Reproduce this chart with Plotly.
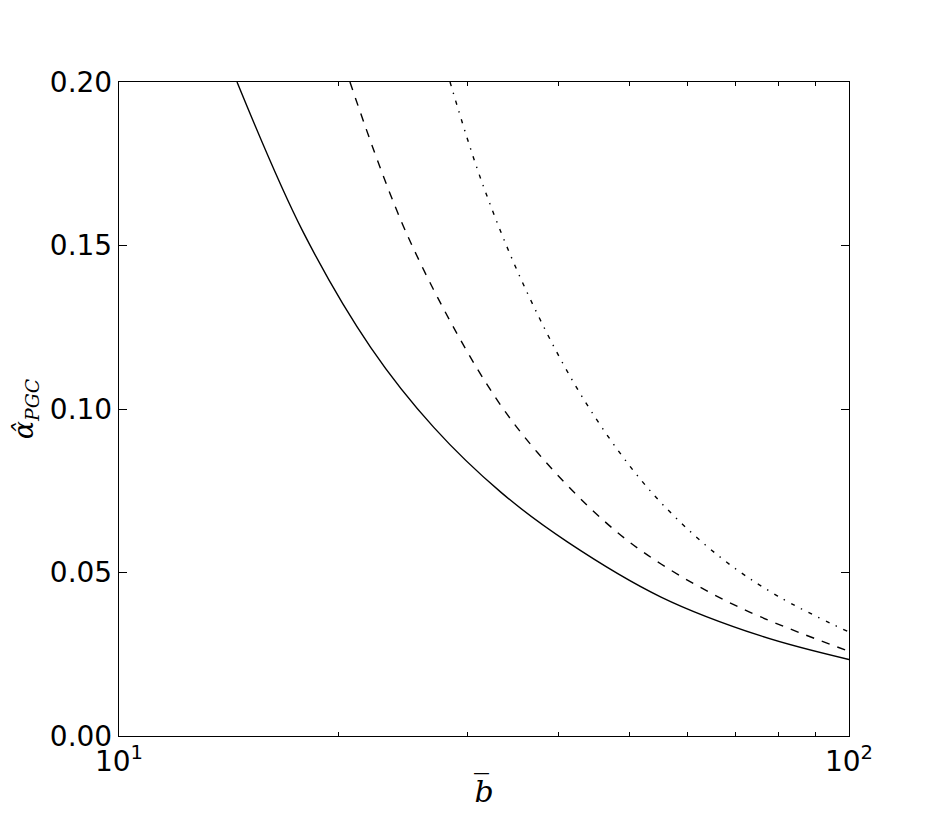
import plotly.graph_objects as go

# values
b_solid = [14.51, 17.85, 22.14, 27.01, 33.37, 41.18, 55.27, 75.76, 100.0]
a_solid = [0.200, 0.1544, 0.1187, 0.0943, 0.0745, 0.0593, 0.0425, 0.0306, 0.0234]

b_dashed = [20.72, 24.86, 31.82, 37.46, 46.71, 55.27, 71.14, 100.0]
a_dashed = [0.200, 0.1529, 0.1080, 0.0866, 0.0648, 0.0526, 0.0391, 0.0259]

b_dashdot = [28.41, 31.32, 35.54, 41.83, 48.72, 55.84, 66.78, 79.86, 100.0]
a_dashdot = [0.200, 0.1702, 0.1397, 0.1086, 0.0861, 0.0703, 0.0545, 0.0428, 0.0318]

y_ticks = [0.0, 0.05, 0.10, 0.15, 0.20]
y_ticktext = ["0.00", "0.05", "0.10", "0.15", "0.20"]
x_ticks = [10, 100]
x_ticktext = ["10<sup>1</sup>", "10<sup>2</sup>"]
x_minor = [20, 30, 40, 50, 60, 70, 80, 90]

fig = go.Figure()
for xs, ys, dash in [
    (b_solid, a_solid, "solid"),
    (b_dashed, a_dashed, "8.3px,8.3px"),
    (b_dashdot, a_dashdot, "4.2px,6.9px,1.4px,6.9px"),
]:
    fig.add_trace(go.Scatter(
        x=xs, y=ys, mode="lines", showlegend=False,
        line=dict(color="black", width=1.4, dash=dash, shape="spline", smoothing=1.0),
    ))

axis_common = dict(
    showline=True, linecolor="black", linewidth=1.4, mirror="ticks",
    ticks="inside", ticklen=8, tickwidth=1.2, tickcolor="black",
    showgrid=False, zeroline=False, automargin=False,
    tickfont=dict(family="DejaVu Sans", size=28, color="black"),
)

fig.update_layout(
    width=942, height=817,
    paper_bgcolor="white", plot_bgcolor="white",
    margin=dict(l=111, r=101, t=74, b=89),
    xaxis=dict(
        type="log", range=[1, 2], tickvals=x_ticks, ticktext=x_ticktext,
        minor=dict(ticks="inside", tickvals=x_minor, ticklen=4, tickcolor="black", tickwidth=1),
        title=dict(text="<i>b\u0305</i>", font=dict(family="DejaVu Serif", size=30, color="black"), standoff=4),
        **axis_common,
    ),
    yaxis=dict(
        range=[0, 0.2], tickvals=y_ticks, ticktext=y_ticktext,
        title=dict(text="<i>α̂</i><sub><i>PGC</i></sub>",
                   font=dict(family="DejaVu Serif", size=27, color="black"), standoff=18),
        **axis_common,
    ),
)

fig.write_html("out.html")
